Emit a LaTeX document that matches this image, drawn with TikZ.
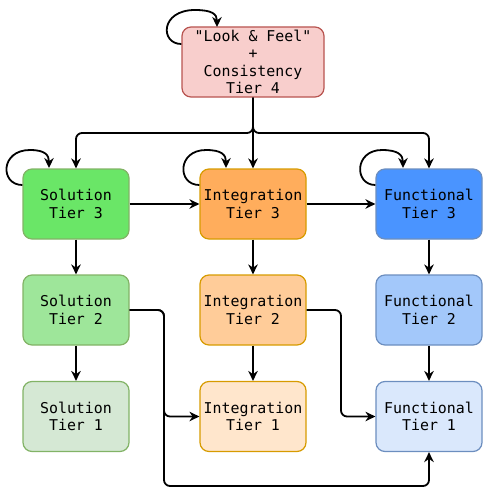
\documentclass[tikz,border=0pt]{standalone}
\usepackage{fontspec}
\setmonofont{DejaVu Sans Mono}
\usetikzlibrary{arrows.meta}
\definecolor{redF}{HTML}{F8CECC}\definecolor{redD}{HTML}{B85450}
\definecolor{gA}{HTML}{6AE667}\definecolor{gB}{HTML}{9EE69A}\definecolor{gC}{HTML}{D5E8D4}\definecolor{gD}{HTML}{82B366}
\definecolor{oA}{HTML}{FFAD5C}\definecolor{oB}{HTML}{FFCC99}\definecolor{oC}{HTML}{FFE6CC}\definecolor{oD}{HTML}{D79B00}
\definecolor{bA}{HTML}{4A94FF}\definecolor{bB}{HTML}{A3C8FA}\definecolor{bC}{HTML}{DAE8FC}\definecolor{bD}{HTML}{6C8EBF}
\tikzset{
  box/.style={rectangle, rounded corners=9pt, line width=1.2pt, minimum width=106pt, minimum height=70pt,
    align=center, inner sep=0pt, font=\ttfamily\fontsize{14.9}{17.4}\selectfont},
  conn/.style={draw, line width=1.8pt, rounded corners=6pt, -{Stealth[length=10pt,width=9.5pt]}},
}
\begin{document}
\begin{tikzpicture}[x=1pt,y=-1pt]
\useasboundingbox (0,0) rectangle (482,487);
% tier 4
\node[box, fill=redF, draw=redD, minimum width=142pt] (top) at (253,62) {"Look \& Feel"\\+\\Consistency\\Tier 4};
% solution column
\node[box, fill=gA, draw=gD] (s3) at (76,204) {Solution\\Tier 3};
\node[box, fill=gB, draw=gD] (s2) at (76,310) {Solution\\Tier 2};
\node[box, fill=gC, draw=gD] (s1) at (76,416.5) {Solution\\Tier 1};
% integration column
\node[box, fill=oA, draw=oD] (i3) at (253,204) {Integration\\Tier 3};
\node[box, fill=oB, draw=oD] (i2) at (253,310) {Integration\\Tier 2};
\node[box, fill=oC, draw=oD] (i1) at (253,416.5) {Integration\\Tier 1};
% functional column
\node[box, fill=bA, draw=bD] (f3) at (429,204) {Functional\\Tier 3};
\node[box, fill=bB, draw=bD] (f2) at (429,310) {Functional\\Tier 2};
\node[box, fill=bC, draw=bD] (f1) at (429,416.5) {Functional\\Tier 1};

% bus from tier 4 to tier 3
\coordinate (bus) at (253,133);
\draw[conn] (top.south) |- (bus) -| (s3.north);
\draw[conn] (top.south) |- (bus) -| (f3.north);
\draw[conn] (top.south) -- (i3.north);

% self loops
\draw[conn, rounded corners=0pt] (top.west |- 0,44) .. controls (160,44) and (160,10) .. (195,10) .. controls (212,10) and (217,14) .. (217,27);
\draw[conn, rounded corners=0pt] (s3.west |- 0,185) .. controls (0,185) and (0,150) .. (30,150) .. controls (45,150) and (49,155) .. (49,168);
\draw[conn, rounded corners=0pt] (i3.west |- 0,185) .. controls (177,185) and (177,150) .. (206,150) .. controls (222,150) and (226,155) .. (226,168);
\draw[conn, rounded corners=0pt] (f3.west |- 0,185) .. controls (354,185) and (354,150) .. (382,150) .. controls (398,150) and (403,155) .. (403,168);

% horizontal tier 3 links
\draw[conn] (s3) -- (i3);
\draw[conn] (i3) -- (f3);

% vertical links
\draw[conn] (s3) -- (s2);
\draw[conn] (s2) -- (s1);
\draw[conn] (i3) -- (i2);
\draw[conn] (i2) -- (i1);
\draw[conn] (f3) -- (f2);
\draw[conn] (f2) -- (f1);

% cross links to tier 1
\draw[conn] (s2.east) -- (164,310) |- (i1.west);
\draw[conn] (s2.east) -- (164,310) |- (300,486) -| (f1.south);
\draw[conn] (i2.east) -- (341,310) |- (f1.west);
\end{tikzpicture}
\end{document}
